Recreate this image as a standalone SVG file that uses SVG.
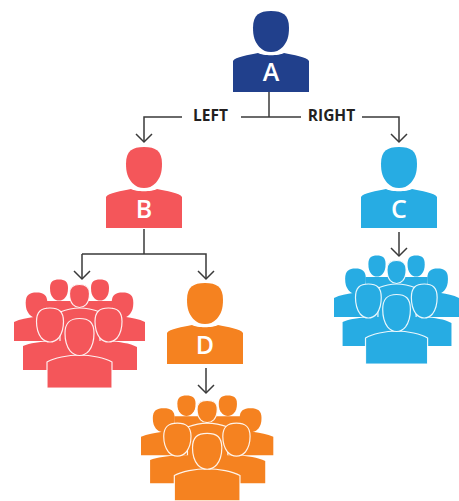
<svg xmlns="http://www.w3.org/2000/svg" width="459" height="501" viewBox="0 0 459 501">
<style>
.lbl{font-family:"Open Sans","Noto Sans","Liberation Sans",sans-serif;font-weight:700;font-size:15.5px;fill:#231f20;text-anchor:middle}
.let{font-family:"Open Sans","Noto Sans","Liberation Sans",sans-serif;font-weight:600;font-size:25px;fill:#fff;text-anchor:middle}
.c{fill:none;stroke:#3a3a3a;stroke-width:1.5}
.o{stroke:#fff;stroke-width:1.2;stroke-opacity:.9}
#h,.o{vector-effect:non-scaling-stroke}
</style>
<defs>
<path id="h" d="M-1-.2C-1-.8-.65-1 0-1S1-.8 1-.2C1 .25 .9 .5 .65 .75C.45 .93 .25 1 0 1S-.45 .93-.65 .75C-.9 .5-1 .25-1-.2Z"/>
<symbol id="person" overflow="visible" viewBox="-38 0 76 81" width="76" height="81">
<use href="#h" transform="translate(0 20.500) scale(18 20.500)"/>
<path d="M-38 81V50C-36 46-22 44-13 42C-8 45 8 45 13 42C22 44 36 46 38 50V81Z"/>
</symbol>
<g id="crowd">
<path d="M47 301H112V320H47Z"/>
<use href="#h" transform="translate(59 290) scale(9 10.500)"/>
<use href="#h" transform="translate(100 290) scale(9 10.500)"/>
<path d="M14 341V322C20 319 28 318 34 317H126C132 318 139 319 145 322V341Z"/>
<use href="#h" transform="translate(36.500 305) scale(10.800 12.500)"/>
<use href="#h" transform="translate(122.500 305) scale(10.800 12.500)"/>
<path class="o" d="M60 312C68 309 72 308 79.500 308C87 308 92 309 100 312V345H60Z"/>
<use class="o" href="#h" transform="translate(79.500 296) scale(10 11.500)"/>
<path d="M23 370V346C30 343 40 342 50 341H109C119 342 130 343 137 347V370Z"/>
<use class="o" href="#h" transform="translate(50 325) scale(13.500 17)"/>
<use class="o" href="#h" transform="translate(108.500 325) scale(13.500 17)"/>
<path class="o" d="M47 388V362C54 358 68 355 79.500 355C91 355 105 358 112 362V388Z"/>
<use class="o" href="#h" transform="translate(79.500 337) scale(14.500 18.500)"/>
</g>
<marker id="arr" markerWidth="20" markerHeight="14" refX="9" refY="11" orient="0" markerUnits="userSpaceOnUse" overflow="visible">
<path d="M1 3L9 11L17 3" fill="none" stroke="#3a3a3a" stroke-width="1.500"/>
</marker>
</defs>
<g id="connectors">
<path class="c" d="M269 92V117"/>
<path class="c" d="M241 117H301"/>
<path class="c" d="M182 117H144V142" marker-end="url(#arr)"/>
<path class="c" d="M362 117H399V142" marker-end="url(#arr)"/>
<path class="c" d="M144 229V254"/>
<path class="c" d="M82 254V279" marker-end="url(#arr)"/>
<path class="c" d="M82 254H206V279" marker-end="url(#arr)"/>
<path class="c" d="M399 232V256" marker-end="url(#arr)"/>
<path class="c" d="M206 368V393" marker-end="url(#arr)"/>
</g>
<g id="label-left"><text class="lbl" x="210.500" y="121">LEFT</text></g>
<g id="label-right"><text class="lbl" x="331.500" y="121">RIGHT</text></g>
<g id="node-a" fill="#21408c"><use href="#person" x="233" y="11"/><text class="let" x="271" y="81">A</text></g>
<g id="node-b" fill="#f4565a"><use href="#person" x="106" y="147"/><text class="let" x="144" y="218">B</text></g>
<g id="node-c" fill="#27ace3"><use href="#person" x="361" y="147"/><text class="let" x="399" y="218">C</text></g>
<g id="node-d" fill="#f58220"><use href="#person" x="167" y="283"/><text class="let" x="205" y="354">D</text></g>
<g id="group-b" fill="#f4565a"><use href="#crowd"/></g>
<g id="group-c" fill="#27ace3"><use href="#crowd" transform="translate(334 256) scale(.955 1) translate(-14 -280)"/></g>
<g id="group-d" fill="#f58220"><use href="#crowd" transform="translate(141 396) scale(1.01 .97) translate(-14 -280)"/></g>
</svg>
